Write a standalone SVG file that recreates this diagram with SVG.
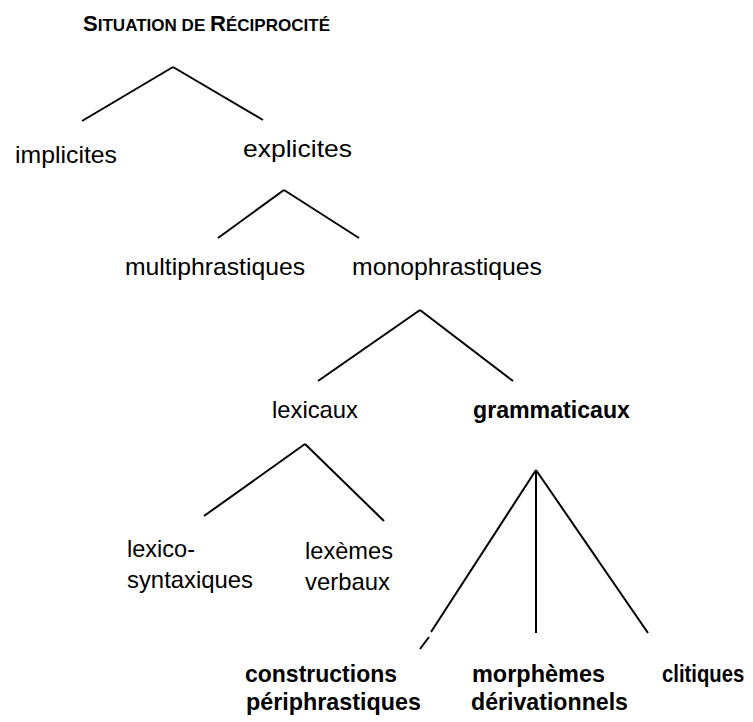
<svg xmlns="http://www.w3.org/2000/svg" width="753" height="722" viewBox="0 0 753 722">
<style>
.t{font-family:"Liberation Sans",Arial,sans-serif;font-size:24px;fill:#000}
.b{font-weight:bold}
.c line{stroke:#000;stroke-width:2;fill:none}
</style>
<rect width="753" height="722" fill="#fff"/>
<g id="title"><text class="t b" x="83" y="31" textLength="247" lengthAdjust="spacingAndGlyphs"><tspan font-size="22">S</tspan><tspan font-size="17">ITUATION DE </tspan><tspan font-size="22">R</tspan><tspan font-size="17">ÉCIPROCITÉ</tspan></text></g>
<g class="c" id="connectors">
<line x1="173" y1="67" x2="82" y2="121"/>
<line x1="173" y1="67" x2="263" y2="120"/>
<line x1="284" y1="190" x2="218" y2="238"/>
<line x1="284" y1="190" x2="359" y2="238"/>
<line x1="420" y1="310" x2="318" y2="381"/>
<line x1="420" y1="310" x2="513" y2="381"/>
<line x1="305" y1="444" x2="204" y2="516"/>
<line x1="305" y1="444" x2="384" y2="521"/>
<line x1="536" y1="470" x2="431" y2="632"/>
<line x1="429" y1="637" x2="420" y2="649"/>
<line x1="536" y1="470" x2="536" y2="633"/>
<line x1="536" y1="470" x2="648" y2="633"/>
</g>
<g id="implicites"><text class="t" x="15" y="163" textLength="102" lengthAdjust="spacingAndGlyphs">implicites</text></g>
<g id="explicites"><text class="t" x="243" y="157" textLength="109" lengthAdjust="spacingAndGlyphs">explicites</text></g>
<g id="multiphrastiques"><text class="t" x="125" y="275" textLength="180" lengthAdjust="spacingAndGlyphs">multiphrastiques</text></g>
<g id="monophrastiques"><text class="t" x="352" y="275" textLength="190" lengthAdjust="spacingAndGlyphs">monophrastiques</text></g>
<g id="lexicaux"><text class="t" x="272" y="418" textLength="86" lengthAdjust="spacingAndGlyphs">lexicaux</text></g>
<g id="grammaticaux"><text class="t b" x="473" y="418" textLength="157" lengthAdjust="spacingAndGlyphs">grammaticaux</text></g>
<g id="lexico-syntaxiques"><text class="t" x="127" y="557" textLength="68" lengthAdjust="spacingAndGlyphs">lexico-</text><text class="t" x="127" y="588" textLength="126" lengthAdjust="spacingAndGlyphs">syntaxiques</text></g>
<g id="lexemes-verbaux"><text class="t" x="305" y="559" textLength="88" lengthAdjust="spacingAndGlyphs">lexèmes</text><text class="t" x="305" y="590" textLength="85" lengthAdjust="spacingAndGlyphs">verbaux</text></g>
<g id="constructions-periphrastiques"><text class="t b" x="245" y="682" textLength="152" lengthAdjust="spacingAndGlyphs">constructions</text><text class="t b" x="246" y="710" textLength="175" lengthAdjust="spacingAndGlyphs">périphrastiques</text></g>
<g id="morphemes-derivationnels"><text class="t b" x="472" y="682" textLength="133" lengthAdjust="spacingAndGlyphs">morphèmes</text><text class="t b" x="471" y="710" textLength="157" lengthAdjust="spacingAndGlyphs">dérivationnels</text></g>
<g id="clitiques"><text class="t b" transform="translate(662,682) scale(0.845,1)" x="0" y="0">clitiques</text></g>
</svg>
